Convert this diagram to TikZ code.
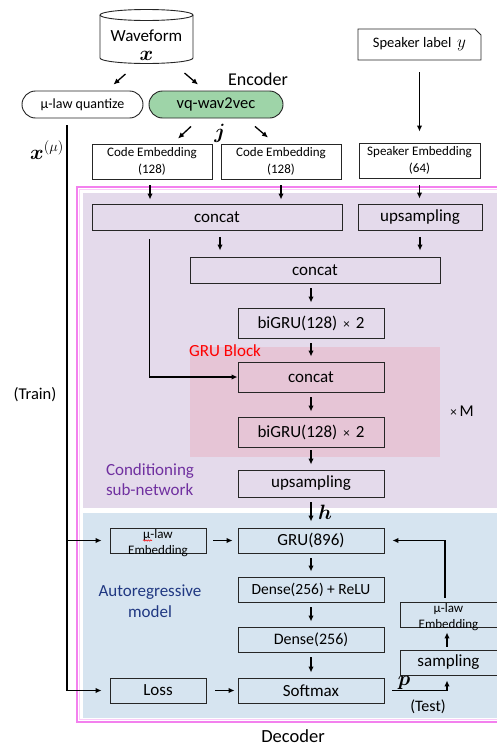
\documentclass[tikz,border=0pt]{standalone}
\usepackage{amsmath}
\usepackage{fontspec}
\setmainfont{Carlito}
\usetikzlibrary{arrows.meta,shapes.misc,calc,decorations.pathmorphing}

\definecolor{lav}{RGB}{228,218,235}
\definecolor{arbg}{RGB}{214,228,240}
\definecolor{grupink}{RGB}{230,197,214}
\definecolor{vqgreen}{RGB}{158,212,168}
\definecolor{pinkB}{RGB}{243,128,238}
\definecolor{pinkL}{RGB}{250,205,248}
\definecolor{condpurple}{RGB}{112,48,160}
\definecolor{artext}{RGB}{32,56,130}

\newcommand{\fsz}[2]{\fontsize{#1}{#2}\selectfont}
\newcommand{\smx}{{\fontsize{13}{13}\selectfont ×}}

\begin{document}
\begin{tikzpicture}[x=1pt,y=-1pt,
  every node/.style={font=\fsz{17}{20}},
  box/.style={draw=black!85, line width=0.9pt, inner sep=0pt, align=center},
  lbl/.style={inner sep=0pt},
  mathlbl/.style={inner sep=0pt, font=\fsz{21}{23}},
  arr/.style={-{Latex[length=6pt,width=5.5pt]}, line width=1.3pt},
  varr/.style={arr, shorten <=5pt, shorten >=5pt},
  boxline/.style={draw=black!85, line width=0.9pt}
]
\useasboundingbox (0,0) rectangle (497,747);

% decoder frame and the two sub-network backgrounds
\draw[pinkB, line width=2pt] (77,187) rectangle (510,722);
\draw[pinkL, line width=1pt] (79.5,189.5) rectangle (510,719.5);
\fill[lav] (83,192.5) rectangle (497,507.5);
\fill[arbg] (83,512.5) rectangle (497,718);
\fill[grupink] (190,347) rectangle (440,457);

% waveform store (cylinder)
\draw[boxline] (100,15) -- (100,58) arc[start angle=180, end angle=360, x radius=46.5pt, y radius=5.5pt] -- (193,15);
\draw[boxline] (146.5,15) ellipse[x radius=46.5pt, y radius=5.5pt];
\node[lbl, align=center] (wave) at (146.5,45) {Waveform\\[-1pt]{\fsz{21}{21}$\boldsymbol{x}$}};
\coordinate (wb) at (146.5,64);

% encoder
\node[box, rounded rectangle, fill=white, minimum width=121pt, minimum height=27pt, font=\fsz{14}{16}] (quant) at (82.5,104.5) {μ-law quantize};
\node[box, rounded rectangle, fill=vqgreen, minimum width=134pt, minimum height=27pt, font=\fsz{16.5}{18}] (vq) at (216,104.5) {vq-wav2vec};
\node[lbl, font=\fsz{18}{20}] (enc) at (258,79) {Encoder};
\node[mathlbl] (j) at (220,133) {$\boldsymbol{j}$};

\node[box, chamfered rectangle, chamfered rectangle corners=north east, chamfered rectangle xsep=3pt, chamfered rectangle ysep=3pt, minimum width=123pt, minimum height=31pt, font=\fsz{14.5}{16}] (spk) at (419.5,44.5) {Speaker label\, {\fsz{18}{18}$y$}};

\node[box, minimum width=120pt, minimum height=35pt, font=\fsz{13}{17}] (ce1) at (152,161.5) {Code Embedding\\(128)};
\node[box, minimum width=120pt, minimum height=35pt, font=\fsz{13}{17}] (ce2) at (281,161.5) {Code Embedding\\(128)};
\node[box, minimum width=121pt, minimum height=35pt, font=\fsz{13}{17}] (se) at (419.5,160.5) {Speaker Embedding\\(64)};

% conditioning sub-network
\node[box, minimum width=250pt, minimum height=26pt] (cc1) at (217,217) {concat};
\node[box, minimum width=124pt, minimum height=26pt] (up1) at (420,217) {upsampling};
\node[box, minimum width=250pt, minimum height=26pt] (cc2) at (315,270) {concat};
\node[box, minimum width=146pt, minimum height=30pt] (bg1) at (311,323) {biGRU(128)\hspace{6pt}\smx\hspace{6pt}2};
\node[lbl, text=red, anchor=base west] (gbl) at (189,356) {GRU Block};
\node[box, minimum width=146pt, minimum height=30pt] (cc3) at (311,377) {concat};
\node[box, minimum width=146pt, minimum height=30pt] (bg2) at (311,432) {biGRU(128)\hspace{6pt}\smx\hspace{6pt}2};
\node[lbl, font=\fsz{16.5}{18}] (xm) at (462,411) {\smx\,M};
\node[box, minimum width=146pt, minimum height=27pt] (up2) at (311,483.5) {upsampling};
\node[lbl, text=condpurple, align=left] (cond) at (150,480) {Conditioning\\sub-network};

% autoregressive model
\node[box, minimum width=146pt, minimum height=25pt] (gru) at (311,540.5) {GRU(896)};
\node[box, minimum width=96pt, minimum height=25pt] (memb) at (158,540.5) {};
\node[lbl, align=center, font=\fsz{13}{16}] (membt) at (158,543.5) {μ-law\\Embedding};
\draw[red, line width=0.5pt, decorate, decoration={zigzag, amplitude=0.7pt, segment length=2.4pt}] (143,540.5) -- (152,540.5);
\node[box, minimum width=146pt, minimum height=25pt, font=\fsz{15.5}{18}] (dr) at (311,589.5) {Dense(256) + ReLU};
\node[box, minimum width=146pt, minimum height=25pt, font=\fsz{16}{18}] (dn) at (311,639.5) {Dense(256)};
\node[box, minimum width=146pt, minimum height=25pt] (sm) at (311,690.5) {Softmax};
\node[box, minimum width=96pt, minimum height=25pt] (loss) at (158,690.5) {Loss};
\node[lbl, text=artext, align=center, font=\fsz{17}{21}] (arm) at (150,601) {Autoregressive\\model};
\node[box, minimum width=97pt, minimum height=25pt] (remb) at (448.5,614.5) {};
\node[lbl, align=center, font=\fsz{13}{16}] (rembt) at (448.5,617.5) {μ-law\\Embedding};
\node[box, minimum width=97pt, minimum height=25pt] (samp) at (448.5,662.5) {sampling};
\node[lbl, font=\fsz{16}{18}] (test) at (428,707) {(Test)};
\node[mathlbl] (p) at (404,683) {$\boldsymbol{p}$};
\node[mathlbl] (h) at (325,512) {$\boldsymbol{h}$};
\node[lbl, font=\fsz{18.5}{21}] (dec) at (293,736.5) {Decoder};

% quantized waveform path
\node[lbl, font=\fsz{16.5}{18}] (train) at (35,395) {(Train)};
\node[mathlbl] (xmu) at (47,150) {$\boldsymbol{x}^{(\mu)}$};
\coordinate (t0) at ($(quant.south)+(-15.5,7)$);
\draw[arr, shorten >=8pt] (t0) |- (memb.west);
\draw[arr, shorten >=8pt] (t0) |- (loss.west);

% encoder arrows
\draw[arr] ($(wb)+(-21,10)$) -- ($(quant.north)+(31,-6)$);
\draw[arr] ($(wb)+(38,9)$) -- ($(vq.north)+(-18,-6)$);
\draw[arr] ($(vq.south)+(-25,8)$) -- ($(ce1.north)+(26,-5)$);
\draw[arr] ($(vq.south)+(39,8)$) -- ($(ce2.north)+(-13,-6)$);
\draw[arr, shorten <=12pt, shorten >=11pt] (spk.south) -- (se.north);

% into the conditioning sub-network
\draw[arr, shorten <=6pt, shorten >=4pt] ([xshift=-2pt]ce1.south) -- ([xshift=-2pt]ce1.south |- cc1.north);
\draw[arr, shorten <=6pt, shorten >=4pt] (ce2.south) -- (ce2.south |- cc1.north);
\draw[arr, shorten <=7pt, shorten >=5pt] (se.south) -- (se.south |- up1.north);
\draw[arr, shorten <=7pt, shorten >=6pt] ([xshift=3pt]cc1.south) -- ([xshift=3pt]cc1.south |- cc2.north);
\draw[arr, shorten <=7pt, shorten >=6pt] (up1.south) -- (up1.south |- cc2.north);
\draw[varr] (bg1.north |- cc2.south) -- (bg1.north);
\draw[varr] (bg1.south) -- (cc3.north);
\draw[varr] (cc3.south) -- (bg2.north);
\draw[arr, shorten <=3pt, shorten >=5pt] (bg2.south) -- (up2.north);
\draw[arr] ($(cc1.south west)+(58,9)$) |- (cc3.west);
\draw[arr, shorten <=5pt, shorten >=6pt] (up2.south) -- (gru.north);

% autoregressive loop
\draw[varr] (gru.south) -- (dr.north);
\draw[varr] (dr.south) -- (dn.north);
\draw[varr] (dn.south) -- (sm.north);
\draw[arr, shorten <=7pt, shorten >=5pt] (memb.east) -- (gru.west);
\draw[arr, shorten <=9pt, shorten >=3pt] (loss.east) -- (sm.west);
\draw[arr] ([xshift=8pt]sm.east) -| ([xshift=-1.5pt, yshift=-5pt]samp.south);
\draw[arr, shorten <=3pt, shorten >=5pt] ([xshift=-1.5pt]samp.north) -- ([xshift=-1.5pt]remb.south);
\draw[arr] ([xshift=-3.5pt, yshift=4pt]remb.north) |- ([xshift=8pt]gru.east);
\end{tikzpicture}
\end{document}
